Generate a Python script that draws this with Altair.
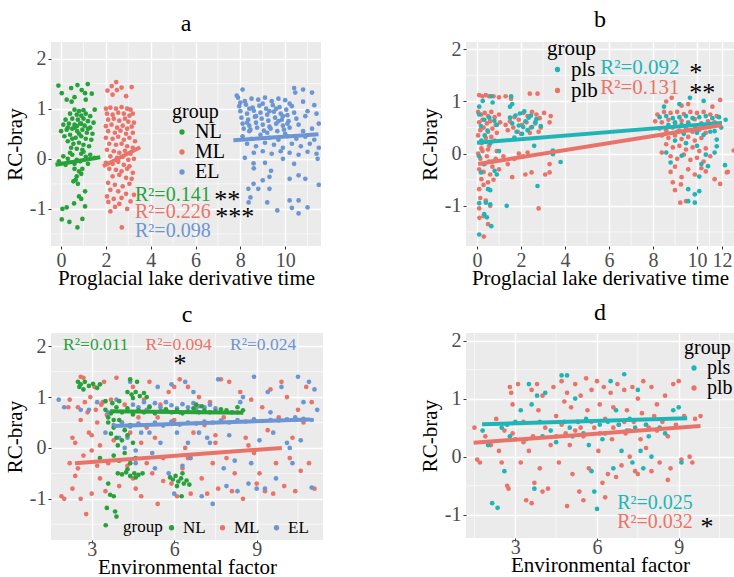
import altair as alt
import pandas as pd

FONT = "Liberation Serif"
BG = "#EBEBEB"
GREEN, RED, BLUE, TEAL = "#27a23a", "#ea7369", "#6b95d3", "#1fb5b6"

# ---------------- panel a : RC-bray vs proglacial lake derivative time
a_NL = [(-0.12,1.46),(0.45,1.41),(0.73,1.47),(1.19,1.49),(0.92,1.37),(0.03,1.31),(0.25,1.18),(0.47,1.14),(1.07,1.31),(1.37,1.30),(1.1,1.18),(0.6,1.23),
        (0.6,0.98),(0.8,0.95),(1.0,0.97),(1.5,0.98),(0.4,0.9),(0.7,0.88),(0.9,0.86),(1.1,0.9),(1.3,0.85),(0.2,0.78),(0.5,0.8),(0.75,0.78),(1.0,0.8),
        (1.2,0.75),(1.45,0.72),(0.1,0.68),(0.35,0.7),(0.6,0.68),(0.85,0.7),(1.05,0.66),(1.3,0.62),(0.0,0.55),(0.25,0.58),(0.5,0.6),(0.72,0.55),
        (0.95,0.58),(1.15,0.52),(1.4,0.5),(0.15,0.45),(0.4,0.48),(0.65,0.42),(0.9,0.45),(1.1,0.4),(1.35,0.38),(0.3,0.35),(0.55,0.3),(0.8,0.32),
        (1.0,0.28),(1.25,0.25),(0.45,0.22),(0.7,0.2),(0.95,0.18),(0.6,0.62),(0.8,0.5),(0.5,0.4),(1.2,0.6),(0.3,0.62),(0.9,0.7),(0.7,0.65),
        (-0.1,-0.05),(0.1,0.05),(0.3,0.0),(0.5,0.08),(0.7,-0.02),(0.9,0.1),(1.1,0.04),(1.3,0.08),(1.5,0.02),(0.2,-0.12),(0.6,-0.1),(0.85,-0.05),
        (1.2,-0.1),(0.4,0.12),(1.0,0.14),(0.6,-0.2),(0.8,-0.25),(0.7,-0.35),(0.9,-0.3),(0.55,-0.45),(0.75,-0.5),(0.65,-0.42),(0.95,-0.2),
        (1.07,-0.65),(0.8,-0.75),(0.9,-0.8),(0.58,-0.89),(0.25,-0.97),(0.06,-1.0),(1.07,-0.95),(0.03,-1.21),(0.37,-1.26),(0.73,-1.37),(0.95,-1.2)]
a_ML = [(2.46,1.53),(2.26,1.45),(2.7,1.42),(3.15,1.43),(2.07,1.36),(2.49,1.37),(2.3,1.28),(2.9,1.25),
        (2.0,1.0),(2.2,1.02),(2.45,1.0),(2.7,1.03),(2.95,1.0),(3.1,0.98),(2.05,0.9),(2.3,0.88),(2.55,0.92),(2.8,0.9),(3.05,0.86),(3.2,0.9),
        (2.1,0.78),(2.35,0.8),(2.6,0.76),(2.85,0.8),(3.0,0.74),(3.25,0.72),(2.0,0.65),(2.25,0.68),(2.5,0.62),(2.75,0.66),(2.95,0.6),(3.15,0.64),
        (2.1,0.55),(2.4,0.52),(2.65,0.56),(2.9,0.5),(3.2,0.52),(2.0,0.42),(2.3,0.4),(2.55,0.44),(2.8,0.38),(3.05,0.42),(3.3,0.35),
        (2.15,0.3),(2.45,0.28),(2.7,0.3),(2.95,0.25),(3.2,0.22),(2.05,0.18),(2.35,0.15),(2.6,0.12),(2.85,0.16),(3.1,0.1),
        (2.2,0.05),(2.5,0.02),(2.75,0.04),(3.0,-0.02),(3.25,0.0),(2.0,-0.08),(2.3,-0.1),(2.55,-0.06),(2.8,-0.12),(3.05,-0.15),
        (2.15,-0.2),(2.45,-0.22),(2.7,-0.25),(2.95,-0.2),(3.2,-0.28),(2.3,-0.35),(2.6,-0.32),(2.9,-0.38),(3.15,-0.4),
        (2.1,-0.48),(2.4,-0.52),(2.75,-0.55),(3.05,-0.5),(2.2,-0.62),(2.55,-0.65),(2.9,-0.7),(2.05,-0.75),(2.35,-0.8),(2.7,-0.78),
        (3.25,-0.72),(2.11,-0.86),(2.41,-0.96),(2.6,-0.9),(2.95,-1.0),(2.71,-1.37),(3.1,-0.85),(2.2,-1.05)]
a_EL = [(7.9,1.22),(8.2,1.15),(8.5,1.2),(8.8,1.18),(9.1,1.22),(9.4,1.15),(9.7,1.2),(10.0,1.17),(10.2,1.1),
        (7.95,1.05),(8.25,1.08),(8.55,1.02),(8.85,1.06),(9.15,1.0),(9.45,1.07),(9.75,1.03),(10.05,0.98),(10.3,1.05),
        (8.0,0.95),(8.3,0.9),(8.6,0.96),(8.9,0.92),(9.2,0.88),(9.5,0.94),(9.8,0.9),(10.1,0.87),(10.4,0.92),
        (8.05,0.82),(8.35,0.78),(8.65,0.84),(8.95,0.8),(9.25,0.76),(9.55,0.82),(9.85,0.78),(10.15,0.75),(10.5,0.8),
        (8.1,0.7),(8.4,0.66),(8.7,0.72),(9.0,0.68),(9.3,0.64),(9.6,0.7),(9.9,0.66),(10.2,0.62),(10.6,0.68),
        (8.15,0.6),(8.45,0.58),(8.75,0.62),(9.05,0.56),(9.35,0.6),(9.65,0.55),(9.95,0.58),
        (8.0,1.12),(8.4,1.0),(8.7,0.85),(9.0,1.1),(9.3,0.95),(9.6,1.0),(9.9,0.85),(8.3,0.72),(9.7,0.75),(10.1,0.7),
        (8.1,0.45),(8.5,0.4),(8.9,0.48),(9.3,0.42),(9.7,0.38),(10.1,0.45),(10.5,0.4),(10.9,0.44),(11.3,0.38),
        (8.3,0.3),(8.7,0.25),(9.1,0.32),(9.5,0.28),(9.9,0.22),(10.3,0.3),(10.7,0.25),(11.1,0.3),(11.5,0.22),
        (8.6,0.12),(9.0,0.15),(9.4,0.1),(9.8,0.15),(10.2,0.12),(10.6,0.08),(11.0,0.14),(11.4,0.1),
        (8.4,0.55),(9.2,0.52),(10.0,0.5),(10.8,0.55),(11.2,0.6),(11.5,0.7),(10.9,0.85),(11.3,1.07),(10.8,1.14),
        (10.4,1.41),(10.8,1.38),(11.2,1.32),(10.45,1.32),(8.1,1.38),(7.84,1.26),(11.0,0.95),(11.4,0.9),
        (8.59,-0.09),(8.6,-0.19),(9.1,-0.08),(9.37,-0.24),(9.3,-0.36),(9.0,-0.43),(8.59,-0.5),(8.36,-0.6),(8.8,-0.6),
        (9.3,-0.6),(8.45,-0.77),(8.37,-0.87),(9.2,-0.87),(9.65,-1.03),(10.2,-0.4),(10.6,-0.33),(10.9,-0.4),(11.5,-0.52),
        (10.2,-0.83),(10.6,-0.83),(10.3,-0.98),(10.6,-1.09),(11.0,-0.97),(11.45,0.0),(9.9,0.0),(10.4,-0.1),(8.2,0.02)]
a_lines = {"NL": [(-0.25,-0.12),(1.75,0.03)], "ML": [(1.87,-0.15),(3.53,0.23)], "EL": [(7.69,0.37),(11.49,0.49)]}
a_r2 = [("R²=0.141", 3.30, -0.72, "NL"), ("R²=0.226", 3.30, -1.07, "ML"), ("R²=0.098", 3.30, -1.44, "EL")]
a_stars = [("**", 6.84, -0.72), ("***", 6.88, -1.07)]

# ---------------- panel b (the printed axis is compressed between 10 and 12)
b_plb = [(0.1,1.12),(0.25,1.1),(0.4,1.12),(0.55,1.1),(0.75,1.1),(1.0,1.08),(1.3,1.1),(1.55,1.05),(2.4,1.15),(2.75,1.15),
         (0.05,0.8),(0.2,0.75),(0.35,0.78),(0.5,0.72),(0.65,0.8),(0.8,0.7),(1.0,0.75),(0.1,0.6),(0.25,0.65),(0.45,0.58),(0.6,0.62),
         (0.85,0.55),(1.05,0.6),(0.15,0.45),(0.3,0.5),(0.5,0.42),(0.7,0.48),(0.9,0.4),(0.05,0.35),(0.4,0.3),(0.65,0.32),(0.2,0.2),(0.55,0.15),(0.8,0.25),
         (1.3,0.55),(1.5,0.62),(1.7,0.7),(1.9,0.65),(2.1,0.78),(2.3,0.72),(2.5,0.8),(2.7,0.75),(2.85,0.68),(1.4,0.45),(1.65,0.5),(1.85,0.42),
         (2.05,0.55),(2.25,0.6),(2.45,0.5),(2.65,0.58),(2.9,0.5),(2.0,0.38),(2.4,0.4),(2.8,0.42),(3.3,0.6),(3.35,0.72),
         (0.05,0.0),(0.15,-0.1),(0.25,0.05),(0.35,-0.2),(0.45,-0.05),(0.55,-0.15),(0.7,-0.25),(0.85,-0.1),(1.0,-0.3),(1.2,-0.05),(0.1,-0.3),
         (0.3,-0.35),(0.6,-0.4),(1.4,-0.2),(1.7,-0.1),(1.9,0.0),(2.1,-0.05),(2.3,0.02),(0.2,0.1),(0.5,0.08),(0.9,0.05),
         (0.2,-0.49),(0.1,-0.68),(0.3,-0.6),(0.5,-0.55),(0.75,-0.5),(0.15,-0.85),(0.4,-0.9),(0.1,-1.05),(0.3,-1.2),(0.11,-1.23),(0.5,-1.35),(0.31,-1.59),(0.6,-1.0),
         (2.8,-1.05),(2.48,-0.36),(3.3,-0.2),(3.3,-0.36),(1.6,-0.45),(2.2,-0.4),(3.05,0.78),(3.1,-0.4),
         (8.2,0.75),(8.5,0.8),(8.8,0.78),(9.1,0.8),(9.4,0.76),(9.7,0.8),(10.0,0.78),(10.53,0.8),(11.06,0.75),(11.58,0.72),
         (8.1,0.62),(8.4,0.6),(8.7,0.65),(9.0,0.58),(9.3,0.63),(9.6,0.6),(9.9,0.66),(10.35,0.58),(10.88,0.62),(11.41,0.6),
         (8.3,0.48),(8.6,0.45),(8.9,0.5),(9.2,0.44),(9.5,0.48),(9.8,0.42),(10.18,0.46),(10.7,0.4),
         (8.4,0.35),(8.7,0.3),(9.0,0.35),(9.3,0.28),(9.6,0.32),(9.9,0.25),(10.35,0.3),
         (8.6,0.18),(8.9,0.12),(9.2,0.15),(9.5,0.08),(9.8,0.12),(10.18,0.05),(10.7,0.1),
         (8.8,-0.05),(9.1,-0.1),(9.4,-0.02),(9.7,-0.12),(10.0,-0.08),(10.53,-0.15),(11.06,-0.05),
         (8.8,-0.35),(9.0,-0.25),(9.3,-0.45),(9.27,-0.59),(9.6,-0.3),(9.9,-0.4),(10.35,-0.28),(10.7,-0.34),(11.41,-0.49),(12.46,-0.35),
         (12.39,-0.36),(11.85,-0.58),(9.24,-0.94),(9.5,-0.91),(9.0,-0.7),(8.9,-0.55),
         (11.85,1.03),(8.85,1.07),(8.6,1.0),(9.3,0.92),(12.94,0.06),(8.4,0.02),(9.6,0.95),(11.23,0.9)]
b_pls = [(0.64,1.1),(0.26,1.01),(0.71,0.98),(1.55,1.1),(1.6,0.95),(1.5,0.9),(0.1,0.75),(0.33,0.65),(0.56,0.69),(0.79,0.63),(0.18,0.53),
         (0.48,0.44),(0.1,0.9),(0.9,0.55),(0.35,0.35),(1.5,0.69),(1.75,0.73),(1.95,0.77),(2.15,0.81),(2.35,0.69),(1.6,0.58),(1.9,0.54),
         (2.1,0.51),(2.3,0.45),(2.5,0.51),(1.8,0.42),(2.05,0.38),(2.7,0.66),(2.65,0.6),(2.2,0.62),(2.45,0.73),(1.7,0.31),(2.6,0.15),(2.9,0.53),
         (0.18,-0.36),(0.8,-0.33),(0.9,-0.4),(0.5,-0.68),(0.6,-0.7),(0.4,-0.94),(0.6,-0.97),(0.1,-0.95),(0.33,-1.16),(0.45,-1.22),(0.65,-1.39),
         (0.1,-1.55),(1.35,-1.0),(2.75,-0.62),(3.45,-0.01),(3.8,-0.16),(3.45,0.06),(0.1,-0.05),(0.3,-0.2),(0.7,-0.15),(1.0,0.05),(0.2,0.25),(0.6,0.2),
         (9.68,1.07),(10.53,1.01),(9.2,0.95),(8.5,0.9),
         (8.3,0.7),(8.6,0.72),(8.9,0.68),(9.2,0.7),(9.5,0.72),(9.8,0.68),(10.18,0.7),(10.7,0.72),(11.23,0.68),(11.76,0.7),(12.29,0.65),
         (8.7,0.55),(9.0,0.6),(9.3,0.55),(9.6,0.58),(9.9,0.52),(10.35,0.56),(10.88,0.52),(11.41,0.55),(11.94,0.5),
         (9.1,0.42),(9.4,0.38),(9.7,0.45),(10.0,0.4),(10.53,0.36),(11.06,0.42),
         (11.41,0.43),(11.58,0.27),(11.58,0.14),(11.41,0.02),(10.7,-0.02),(10.35,-0.2),(10.88,-0.24),(8.6,0.02),(8.8,-0.17),(9.3,-0.04),
         (10.18,-0.44),(12.24,-0.22),(9.6,-0.68),(10.18,-0.72),(9.9,-0.78),(9.6,-0.91),(9.9,-0.94),(9.5,0.2),(9.0,0.25),(10.0,0.15)]
b_lines = {"pls": [(0.0,0.21),(12.0,0.59)], "plb": [(0.05,-0.2),(12.0,0.55)]}
b_r2 = [("R²=0.092", 5.6, 1.65, "pls"), ("R²=0.131", 5.6, 1.26, "plb")]
b_stars = [("*", 9.65, 1.65), ("**", 9.65, 1.26)]
b_xstops = [-0.5, 10, 12, 12.96]

# ---------------- panel c : RC-bray vs environmental factor
c_NL = [(2.5,1.3),(2.6,1.25),(2.75,1.3),(2.9,1.22),(3.05,1.26),(3.2,1.18),(2.7,1.15),(3.3,1.25),(2.55,1.2),
        (4.3,1.1),(4.45,1.05),(4.6,1.1),(4.75,1.02),(4.9,1.08),(5.0,1.0),(4.5,0.98),(4.4,1.35),(4.65,1.3),
        (3.5,0.75),(3.7,0.68),(3.9,0.8),(4.1,0.7),(4.3,0.78),(4.5,0.66),(4.7,0.74),(4.9,0.7),(5.1,0.8),(5.3,0.68),(5.5,0.72),
        (5.7,0.76),(5.9,0.7),(6.1,0.74),(6.3,0.68),(6.5,0.72),(6.7,0.78),(6.9,0.7),(7.1,0.74),(7.3,0.7),(7.5,0.72),(7.7,0.76),
        (7.9,0.74),(8.1,0.7),(8.3,0.8),(8.5,0.74),(6.8,0.85),(7.0,0.82),(3.6,0.6),(3.8,0.55),
        (3.6,0.5),(3.8,0.4),(4.0,0.55),(4.2,0.35),(4.4,0.45),(3.7,0.28),(3.9,0.2),(4.1,0.15),(4.3,0.25),(4.5,0.1),(3.5,0.92),(3.75,0.88),(4.0,0.92),
        (3.8,-0.15),(4.0,-0.25),(4.2,-0.1),(4.4,-0.3),(3.95,0.05),(4.6,-0.2),
        (3.95,-0.5),(4.1,-0.52),(4.25,-0.48),(4.4,-0.55),(4.55,-0.5),(4.7,-0.53),(4.85,-0.5),(4.3,-0.42),(4.6,-0.58),
        (5.85,-0.58),(5.95,-0.62),(6.05,-0.55),(6.15,-0.66),(6.25,-0.6),(6.35,-0.7),(6.45,-0.64),(6.55,-0.72),(6.1,-0.75),(6.3,-0.5),(6.27,-0.95),
        (3.67,-0.92),(3.8,-0.95),(3.55,-1.18),(3.85,-1.25),(3.9,-1.35),(3.51,-1.52),(3.6,-0.7),(3.3,-0.2)]
c_ML = [(1.9,-0.95),(2.0,-1.0),(2.15,0.8),(2.2,0.95),(2.3,0.2),(2.4,-0.55),(2.5,-0.4),(2.6,1.4),(2.7,1.38),(2.8,-1.3),(2.9,0.3),(3.0,-0.9),
        (2.6,-1.0),(2.85,0.7),(3.1,1.2),(3.2,0.5),(3.3,-0.6),(3.4,0.9),(3.45,1.3),(3.6,-0.3),(2.4,0.1),(2.7,-0.15),(3.0,0.25),(3.3,0.05),
        (3.5,-0.85),(3.7,0.95),(3.9,1.38),(4.0,-0.75),(4.2,0.85),(4.3,-0.35),(4.5,1.2),(4.6,-0.8),(4.7,0.6),(4.8,-0.95),(5.0,0.4),(5.1,1.3),
        (5.2,-0.5),(5.3,0.2),(5.4,-1.1),(5.5,0.85),(5.6,-0.2),(5.8,1.1),(5.9,-0.7),(6.0,0.55),(6.2,1.35),(6.3,-0.4),(6.4,0.0),(6.5,1.2),
        (6.6,-0.9),(6.7,0.3),(6.9,1.0),(7.0,-0.6),(7.1,0.45),(7.3,0.9),(7.4,-0.3),(7.5,0.1),(7.6,-0.8),(7.8,0.6),(7.9,-0.2),(8.0,1.3),
        (8.2,-0.5),(8.3,0.7),(8.5,-1.0),(8.6,0.2),(8.8,0.95),(8.9,-0.1),(9.0,-0.7),(9.2,0.8),(9.3,-0.85),(9.4,0.35),(9.5,1.15),(9.6,-0.9),
        (9.7,-0.3),(9.8,0.6),(10.0,-0.75),(10.1,1.0),(10.2,-0.2),(10.4,-0.85),(10.5,0.75),(10.6,-0.45),(10.8,1.2),(10.9,-0.3),(11.0,0.9),
        (11.1,-0.8),(7.7,1.35),(6.8,0.8),(5.7,0.75),(4.9,0.95),(4.4,0.3),(3.8,0.15),(3.2,-0.35),(2.6,0.55),(2.3,-0.8),(2.95,1.0),(3.15,0.75),
        (3.35,0.85),(3.55,0.65),(2.75,0.9),(2.5,0.8),(4.1,0.5),(5.6,-0.65),(6.1,-0.95),(7.2,-0.9),(8.1,-0.85),(9.1,-0.5),(10.3,0.2),(10.7,0.5),
        (8.7,0.05),(7.5,0.25),(6.5,-0.2),(5.4,0.6),(4.8,0.1),(9.9,1.3),(8.4,1.1),(3.0,-0.05),(2.2,-0.3),(4.5,-0.6),(5.0,-0.3),(6.0,1.2)]
c_EL = [(4.5,0.85),(4.7,0.8),(4.9,0.9),(5.1,0.82),(5.3,0.88),(5.5,0.8),(5.7,0.9),(5.9,0.84),(6.1,0.78),(6.3,0.86),(6.5,0.8),(6.7,0.88),
        (6.9,0.82),(7.1,0.8),(7.3,0.85),(7.5,0.78),(5.0,0.75),(5.6,0.72),(6.2,0.7),(6.8,0.74),
        (3.8,0.45),(4.1,0.5),(4.4,0.42),(4.7,0.48),(5.0,0.45),(5.3,0.5),(5.6,0.44),(5.9,0.52),(6.2,0.46),(6.5,0.5),(6.8,0.48),(7.1,0.52),
        (7.4,0.5),(7.7,0.54),(8.0,0.5),(8.3,0.55),(8.6,0.52),(8.9,0.56),(9.2,0.53),(9.5,0.55),(9.8,0.54),(10.1,0.56),(10.4,0.55),(10.7,0.57),(11.0,0.55),
        (1.8,0.95),(2.0,0.8),(2.6,0.75),(3.2,0.9),(4.0,0.2),(4.2,0.0),(4.6,-0.3),(5.2,-0.1),(5.5,0.1),(5.8,-0.5),(6.1,0.3),(6.4,1.3),(6.6,-0.2),
        (7.0,-0.95),(7.2,0.2),(7.4,-1.1),(7.8,-0.4),(8.0,0.25),(8.2,-0.25),(8.5,1.0),(8.7,-0.7),(8.9,1.4),(9.1,0.15),(9.3,-0.8),(9.5,0.7),
        (9.7,-0.6),(9.9,1.2),(10.1,0.1),(10.3,-0.3),(10.5,1.4),(10.7,0.9),(10.9,1.3),(11.0,-0.78),(11.2,0.75),(8.3,-0.85),(9.0,-0.8),(7.6,1.35),
        (6.9,0.3),(6.0,-0.9),(5.3,-0.4),(4.8,0.3),(4.3,0.2),(5.9,1.25),(6.7,1.1),(7.3,0.1),(8.4,0.9),(9.4,1.1),(10.2,0.0),(10.6,0.15),(11.1,1.15),
        (3.9,0.95),(3.6,0.7),(2.9,0.75),(4.4,1.3),(5.4,1.2),(6.3,-0.35),(7.9,-0.75),(8.8,-0.3),(9.6,0.3),(10.4,0.6),(5.1,0.3),(6.5,0.1),(4.6,-0.05),(3.5,0.3)]
c_lines = {"NL": [(3.67,0.72),(8.51,0.69)], "ML": [(2.39,-0.30),(9.91,0.0)], "EL": [(3.79,0.43),(10.94,0.56)]}
c_r2 = [("R²=0.011", 1.96, 2.03, "NL"), ("R²=0.094", 4.96, 2.03, "ML"), ("R²=0.024", 8.03, 2.03, "EL")]
c_stars = [("*", 6.21, 1.74)]

# ---------------- panel d
d_plb = [(1.5,0.5),(1.6,-0.05),(1.7,-0.1),(1.9,0.35),(2.1,0.2),(2.3,0.65),(2.5,-0.1),(2.6,0.45),(2.7,-0.5),(2.75,-0.55),(2.8,1.2),(2.85,1.1),
         (2.9,0.9),(3.0,0.3),(3.1,1.25),(3.2,-0.1),(3.3,0.6),(3.4,-0.75),(3.5,0.1),(3.6,1.15),(3.65,0.35),(3.7,-0.45),(3.8,1.25),(3.85,0.8),
         (3.9,-0.2),(4.0,1.05),(4.1,0.5),(4.2,-0.55),(4.3,0.2),(4.4,1.2),(4.5,0.7),(4.6,-0.1),(4.7,1.3),(4.8,0.95),(4.85,0.4),(4.9,1.1),(5.0,0.2),
         (5.05,0.85),(5.1,-0.3),(5.2,1.25),(5.3,0.6),(5.35,-0.6),(5.4,1.05),(5.5,0.35),(5.6,1.35),(5.65,0.8),(5.7,-0.2),(5.8,1.15),(5.9,0.5),
         (6.0,1.3),(6.05,0.1),(6.1,0.9),(6.2,-0.45),(6.25,1.2),(6.3,0.65),(6.4,-0.3),(6.5,1.1),(6.55,0.3),(6.6,0.85),(6.7,-0.35),(6.75,1.25),
         (6.8,0.55),(6.9,-0.15),(7.0,1.15),(7.05,0.4),(7.1,0.8),(7.2,0.0),(7.3,1.2),(7.35,0.6),(7.4,-0.25),(7.5,1.0),(7.6,0.3),(7.65,0.75),
         (7.7,1.3),(7.8,0.15),(7.9,0.5),(8.0,1.2),(8.1,0.7),(8.2,0.9),(8.3,-0.1),(8.4,0.6),(8.5,1.05),(8.6,0.35),(8.7,-0.2),(8.8,1.25),(8.9,0.55),
         (9.0,1.3),(9.1,-0.05),(9.2,0.7),(9.4,0.0),(9.5,-0.1),(9.6,0.65),(8.0,-0.25),(7.5,-0.3),(5.5,-0.75),(4.0,-0.6),(3.6,-0.8),(4.9,-0.85),
         (6.3,-0.7),(8.6,-0.4),(2.4,0.1),(5.8,0.6),(6.6,0.5),(7.2,0.45),(5.2,0.45),(4.5,0.35),(3.3,0.25),(2.9,0.4),(7.0,0.6),(7.8,0.55),(6.1,0.4),
         (5.4,0.5),(4.7,0.55),(8.2,0.45),(9.8,0.7)]
d_pls = [(1.8,0.45),(2.0,0.2),(2.15,-0.8),(2.35,-0.88),(2.5,0.5),(2.6,-0.25),(2.7,0.55),(3.0,0.6),(3.2,0.8),(3.4,0.3),(3.5,1.25),(3.6,0.9),
         (3.7,-0.55),(3.8,1.05),(3.9,0.6),(4.1,1.1),(4.3,0.45),(4.5,0.25),(4.7,1.4),(4.8,0.6),(4.9,1.4),(5.0,0.5),(5.1,0.35),(5.2,1.0),(5.3,0.6),
         (5.5,0.4),(5.7,0.2),(5.8,-0.25),(5.9,-0.6),(6.0,-0.9),(6.1,0.55),(6.2,0.3),(6.4,0.6),(6.5,1.3),(6.6,-0.2),(6.8,0.55),(6.9,0.1),(7.0,1.42),
         (7.1,0.45),(7.2,0.65),(7.3,-0.1),(7.4,0.5),(7.5,1.15),(7.6,0.1),(7.7,-0.2),(7.8,0.55),(8.0,0.0),(8.3,0.5),(8.5,0.4),(8.8,0.8),(9.0,0.85),
         (9.1,-0.1),(6.3,0.4),(5.6,0.65),(4.0,0.35),(2.8,0.35),(7.9,0.35),(6.7,0.8)]
d_lines = {"pls": [(1.78,0.56),(9.31,0.66)], "plb": [(1.47,0.24),(9.8,0.53)]}
d_r2 = [("R²=0.025", 6.74, -0.805, "pls"), ("R²=0.032", 6.74, -1.12, "plb")]
d_stars = [("*", 9.8, -1.12)]

# axis breaks
Y_MAJOR, Y_MINOR = [-1, 0, 1, 2], [-1.5, -0.5, 0.5, 1.5]
T_MAJOR, T_MINOR = [0, 2, 4, 6, 8, 10, 12], [1, 3, 5, 7, 9, 11]
E_MAJOR, E_MINOR = [3, 6, 9], [1.5, 4.5, 7.5, 10.5]


def pts_df(d):
    return pd.DataFrame([{"x": x, "y": y, "g": g} for g, lst in d.items() for x, y in lst])


AX = dict(domain=False, grid=True, gridColor="white", gridWidth=1.4, tickColor="#333333", tickSize=3, tickWidth=1,
          labelFont=FONT, labelFontSize=20, labelColor="#4D4D4D", labelFlush=False, labelOverlap=False,
          titleFont=FONT, titleFontSize=21, titleFontWeight="normal", titleColor="black")


def panel(title, groups, colors, pts, lines, r2, stars, xscale, ydom, xmaj, xmin, xtitle, w, h,
          legend, r2size, starsize, stardy, xlabpad, staralign="left"):
    ys = alt.Scale(domain=ydom, nice=False, zero=False)
    cmap = dict(zip(groups, colors))
    pdf = pts_df(pts)
    ldf = pts_df(lines)
    rdf = pd.DataFrame([{"t": t, "x": x, "y": y, "c": cmap[g]} for t, x, y, g in r2])
    sdf = pd.DataFrame([{"t": t, "x": x, "y": y} for t, x, y in stars])
    cscale = alt.Scale(domain=groups, range=colors)
    xaxis = alt.Axis(values=xmaj, title=xtitle, titlePadding=-3, labelPadding=xlabpad,
                     labelExpr="'' + datum.value", **AX)
    yaxis = alt.Axis(values=Y_MAJOR, title="RC-bray", titlePadding=4, labelPadding=2,
                     labelExpr="'' + datum.value", **AX)
    gx = alt.Chart(pd.DataFrame({"x": xmin})).mark_rule(color="white", strokeWidth=0.6, clip=True).encode(
        x=alt.X("x:Q", scale=xscale, axis=xaxis))
    gy = alt.Chart(pd.DataFrame({"y": Y_MINOR})).mark_rule(color="white", strokeWidth=0.6, clip=True).encode(
        y=alt.Y("y:Q", scale=ys, axis=yaxis))
    p = alt.Chart(pdf).mark_circle(size=22, opacity=1, clip=True).encode(
        x=alt.X("x:Q", scale=xscale, axis=xaxis),
        y=alt.Y("y:Q", scale=ys, axis=yaxis),
        color=alt.Color("g:N", scale=cscale, sort=groups, legend=legend))
    ln = alt.Chart(ldf).mark_line(strokeWidth=4, clip=True).encode(
        x="x:Q", y="y:Q", detail="g:N", color=alt.Color("g:N", scale=cscale, legend=None))
    tx = alt.Chart(rdf).mark_text(align="left", baseline="middle", font=FONT, fontSize=r2size).encode(
        x="x:Q", y="y:Q", text="t:N", color=alt.Color("c:N", scale=None))
    st = alt.Chart(sdf).mark_text(align=staralign, baseline="middle", font=FONT, fontSize=starsize,
                                  color="black", dy=stardy).encode(x="x:Q", y="y:Q", text="t:N")
    return alt.layer(gx, gy, p, ln, tx, st).properties(
        width=w, height=h,
        title=alt.TitleParams(title, font=FONT, fontSize=24, fontWeight="normal", color="black",
                              anchor="middle", offset=6))


def leg(x, y, size, rowpad, direction="vertical", titleorient="top"):
    return alt.Legend(orient="none", legendX=x, legendY=y, title="group", direction=direction,
                      titleOrient=titleorient, titleFont=FONT, titleFontSize=size, titleFontWeight="normal",
                      titleColor="black", labelFont=FONT, labelFontSize=size, labelColor="black",
                      symbolType="circle", symbolSize=28, symbolStrokeWidth=0, labelOffset=3,
                      rowPadding=rowpad, columnPadding=8, titlePadding=0, padding=0, offset=0)


def lin(lo, hi):
    return alt.Scale(domain=[lo, hi], nice=False, zero=False)


A = panel("a", ["NL", "ML", "EL"], [GREEN, RED, BLUE], {"NL": a_NL, "ML": a_ML, "EL": a_EL}, a_lines, a_r2, a_stars,
          lin(-0.45, 11.6), [-1.74, 2.33], T_MAJOR[:-1], T_MINOR,
          "Proglacial lake derivative time", 270, 204, leg(121, 60, 20, -4), 20, 26, 5, 1)
B = panel("b", ["pls", "plb"], [TEAL, RED], {"plb": b_plb, "pls": b_pls}, b_lines, b_r2, b_stars,
          alt.Scale(domain=b_xstops, range=[0, 231, 256, 268], nice=False, zero=False), [-1.77, 2.14], T_MAJOR, T_MINOR,
          "Proglacial lake derivative time", 268, 204, leg(81, -4, 21, -3), 21, 26, 5, 1)
C = panel("c", ["NL", "ML", "EL"], [GREEN, RED, BLUE], {"ML": c_ML, "EL": c_EL, "NL": c_NL}, c_lines, c_r2, c_stars,
          lin(1.52, 11.41), [-1.81, 2.26], E_MAJOR, E_MINOR,
          "Environmental factor", 272, 207, leg(72, 186, 17, 0, "horizontal", "left"), 17.5, 26, 5, -4, "center")
D = panel("d", ["pls", "plb"], [TEAL, RED], {"plb": d_plb, "pls": d_pls}, d_lines, d_r2, d_stars,
          lin(1.19, 11.03), [-1.40, 2.13], E_MAJOR, E_MINOR,
          "Environmental factor", 268, 205, leg(218, 5, 20, -2), 20, 26, 5, -4)

chart = alt.concat(A, B, C, D, columns=2, spacing={"row": 87, "column": 143}, bounds="flush").resolve_scale(
    color="independent", x="independent", y="independent").resolve_legend(color="independent").properties(
    padding={"left": 4, "top": 8, "right": 0, "bottom": 0}, background="white"
).configure_view(fill=BG, stroke=None)

chart.save("out.html", embed_options={"renderer": "svg", "actions": False})
